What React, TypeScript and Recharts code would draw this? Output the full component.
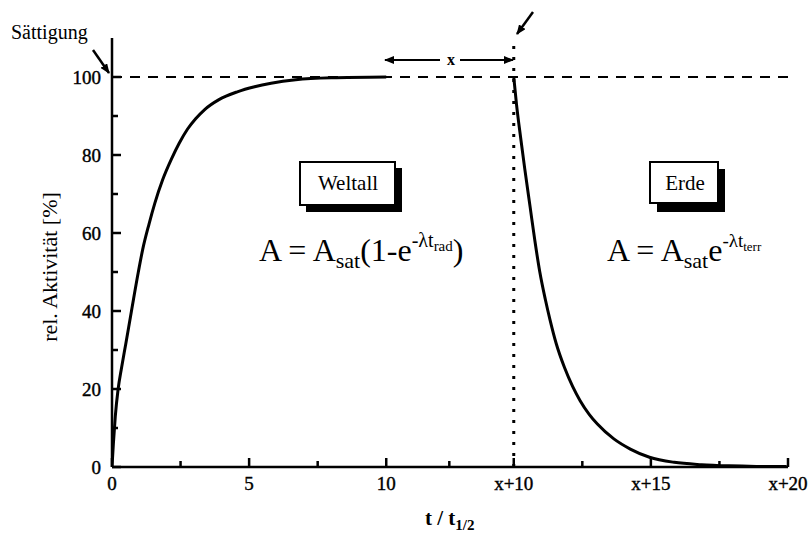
import React from 'react';
import { LineChart, Line, XAxis, YAxis, ReferenceLine, Customized } from 'recharts';

// Rise in space (Weltall): t / t_1/2 vs relative activity [%]
const riseT = [0, 0.05, 0.12, 0.22, 0.35, 0.5, 0.71, 0.96, 1.12, 1.35, 1.56, 1.85, 2.17, 2.45, 2.75, 3.05, 3.37, 3.9, 4.57, 5.2, 5.8, 6.7, 8, 10];
const riseA = [0, 6, 13, 19.8, 25.5, 31.5, 40, 50, 55.8, 62.3, 67.6, 73.7, 79, 83, 86.6, 89.3, 91.6, 94.2, 96.2, 97.5, 98.4, 99.3, 99.8, 100];
// Decay on earth (Erde)
const decayT = [14.65, 14.75, 14.9, 15.05, 15.25, 15.42, 15.6, 15.8, 15.97, 16.2, 16.5, 16.8, 17.07, 17.4, 17.7, 18.3, 18.9, 19.6, 20.5, 21.5, 22.5, 23.5, 24.6];
const decayA = [100, 93, 84.5, 76.5, 66.5, 58, 50, 43, 37.8, 31.6, 25.5, 20.6, 17, 13.5, 11, 7.2, 4.6, 2.5, 1.2, 0.6, 0.3, 0.15, 0.1];

const xMajorTicks = [0, 5, 10, 14.65, 19.65, 24.65];
const xMajorLabels = ['0', '5', '10', 'x+10', 'x+15', 'x+20'];
const xMinorTicks = [2.5, 7.5, 12.3, 17.15, 22.15];
const yMajorTicks = [0, 20, 40, 60, 80, 100];
const yMinorTicks = [10, 30, 50, 70, 90];
const saturation = 100;
const earthStart = 14.65;

const riseData = riseT.map((t, i) => ({ t, a: riseA[i] }));
const decayData = decayT.map((t, i) => ({ t, a: decayA[i] }));
const xTicks = [...xMajorTicks, ...xMinorTicks].sort((a, b) => a - b);
const yTicks = [...yMajorTicks, ...yMinorTicks].sort((a, b) => a - b);

const FONT = '"Liberation Serif", "DejaVu Serif", serif';

// chart frame
const W = 809;
const H = 536;
const M = { top: 38, right: 21, bottom: 0, left: 0 };
const Y_AXIS_W = 112;
const X_AXIS_H = 69;
const PLOT_LEFT = M.left + Y_AXIS_W;
const PLOT_TOP = M.top;
const PLOT_BOTTOM = H - M.bottom - X_AXIS_H;

const XTickBottom = (props: any) => {
  const { x, payload } = props;
  const idx = xMajorTicks.indexOf(payload.value);
  const major = idx >= 0;
  return (
    <g>
      <line x1={x} x2={x} y1={PLOT_BOTTOM} y2={PLOT_BOTTOM - (major ? 9 : 6)} stroke="#000" strokeWidth={2.5} />
      {major && (
        <text x={x} y={PLOT_BOTTOM + 23} textAnchor="middle" fontFamily={FONT} fontSize={19} fill="#000" stroke="#000" strokeWidth={0.4}>
          {xMajorLabels[idx]}
        </text>
      )}
    </g>
  );
};

const XTickTop = (props: any) => {
  const { x, payload } = props;
  const major = xMajorTicks.indexOf(payload.value) >= 0;
  return <line x1={x} x2={x} y1={PLOT_TOP} y2={PLOT_TOP + (major ? 9 : 6)} stroke="#000" strokeWidth={2.5} />;
};

const YTick = (props: any) => {
  const { y, payload } = props;
  const major = yMajorTicks.indexOf(payload.value) >= 0;
  return (
    <g>
      <line x1={PLOT_LEFT} x2={PLOT_LEFT + (major ? 9 : 6)} y1={y} y2={y} stroke="#000" strokeWidth={2.5} />
      {major && (
        <text x={PLOT_LEFT - 11} y={y + 7} textAnchor="end" fontFamily={FONT} fontSize={19} fill="#000" stroke="#000" strokeWidth={0.4}>
          {payload.value}
        </text>
      )}
    </g>
  );
};

const Annotations = () => (
  <g fontFamily={FONT} fill="#000">
    <defs>
      <marker id="ah" markerWidth="10" markerHeight="8" refX="9" refY="4" orient="auto" markerUnits="userSpaceOnUse">
        <path d="M0,0 L10,4 L0,8 Z" fill="#000" />
      </marker>
    </defs>
    {/* Sättigung label + arrow */}
    <text x={11} y={39} fontSize={20}>Sättigung</text>
    <line x1={93} y1={50} x2={109} y2={73} stroke="#000" strokeWidth={2.5} markerEnd="url(#ah)" />
    {/* top arrow at x+10 */}
    <line x1={533} y1={12} x2={517} y2={34} stroke="#000" strokeWidth={2.5} markerEnd="url(#ah)" />
    {/* x double arrow */}
    <line x1={440} y1={60} x2={385} y2={60} stroke="#000" strokeWidth={2} markerEnd="url(#ah)" />
    <line x1={460} y1={60} x2={513} y2={60} stroke="#000" strokeWidth={2} markerEnd="url(#ah)" />
    <text x={451} y={65} fontSize={16} textAnchor="middle" fontWeight="bold">x</text>
    {/* Weltall box */}
    <rect x={306} y={168} width={96} height={44} fill="#000" />
    <rect x={300} y={162} width={95} height={43} fill="#fff" stroke="#000" strokeWidth={2} />
    <text x={348} y={190} fontSize={21} textAnchor="middle">Weltall</text>
    {/* Erde box */}
    <rect x={657} y={169} width={68} height={43} fill="#000" />
    <rect x={650} y={162} width={68} height={41} fill="#fff" stroke="#000" strokeWidth={2} />
    <text x={685} y={190} fontSize={21} textAnchor="middle">Erde</text>
    {/* formulas */}
    <text x={259} y={261} fontSize={32}>
      A = A<tspan fontSize={22} dy={7}>sat</tspan>
      <tspan fontSize={32} dy={-7}>(1-e</tspan>
      <tspan fontSize={20} dy={-14}>-λt</tspan>
      <tspan fontSize={15} dy={4}>rad</tspan>
      <tspan fontSize={32} dy={10}>)</tspan>
    </text>
    <text x={607} y={261} fontSize={32}>
      A = A<tspan fontSize={22} dy={7}>sat</tspan>
      <tspan fontSize={32} dy={-7}>e</tspan>
      <tspan fontSize={19} dy={-14}>-λt</tspan>
      <tspan fontSize={13} dy={4}>terr</tspan>
    </text>
    {/* axis titles */}
    <text x={57} y={267} fontSize={22} textAnchor="middle" transform="rotate(-90 57 267)">
      rel. Aktivität [%]
    </text>
    <text x={425} y={525} fontSize={21} fontWeight="bold">
      t / t<tspan fontSize={15} dy={5}>1/2</tspan>
    </text>
  </g>
);

export default function App() {
  return (
    <div style={{ position: 'absolute', left: 0, top: 0, width: W, height: H, background: '#fff' }}>
      <LineChart width={W} height={H} margin={M}>
        <XAxis
          dataKey="t"
          type="number"
          domain={[0, 24.65]}
          ticks={xTicks}
          interval={0}
          height={X_AXIS_H}
          tickLine={false}
          axisLine={{ stroke: '#000', strokeWidth: 2.5 }}
          tick={<XTickBottom />}
          allowDataOverflow
        />
        <XAxis
          xAxisId="top"
          orientation="top"
          dataKey="t"
          type="number"
          domain={[0, 24.65]}
          ticks={xTicks}
          interval={0}
          height={0}
          tickLine={false}
          axisLine={{ stroke: '#000', strokeWidth: 2.5 }}
          tick={<XTickTop />}
        />
        <YAxis
          type="number"
          domain={[0, 110]}
          ticks={yTicks}
          interval={0}
          width={Y_AXIS_W}
          tickLine={false}
          axisLine={{ stroke: '#000', strokeWidth: 2.5 }}
          tick={<YTick />}
        />
        <YAxis
          yAxisId="right"
          orientation="right"
          type="number"
          domain={[0, 110]}
          width={0}
          tick={false}
          tickLine={false}
          axisLine={{ stroke: '#000', strokeWidth: 2.5 }}
        />
        <ReferenceLine y={saturation} stroke="#000" strokeWidth={2} strokeDasharray="10 8" />
        <ReferenceLine x={earthStart} stroke="#000" strokeWidth={3} strokeDasharray="3 8" />
        <Line data={riseData} dataKey="a" type="monotone" stroke="#000" strokeWidth={3} dot={false} isAnimationActive={false} />
        <Line data={decayData} dataKey="a" type="monotone" stroke="#000" strokeWidth={3} dot={false} isAnimationActive={false} />
        <Customized component={Annotations} />
      </LineChart>
    </div>
  );
}
